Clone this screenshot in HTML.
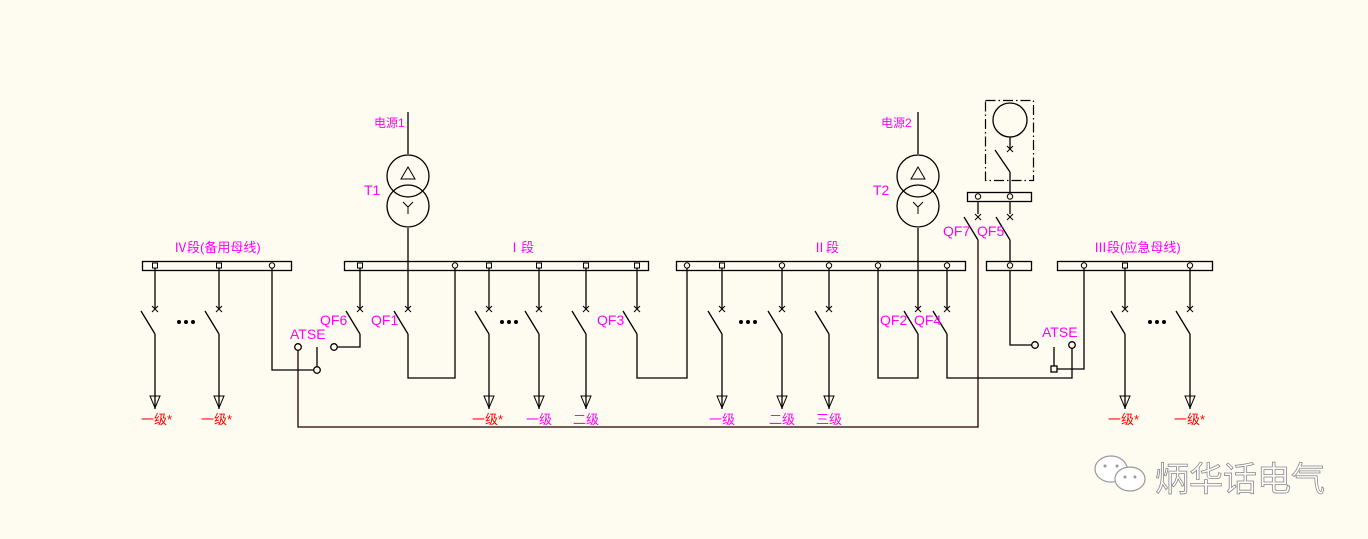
<!DOCTYPE html>
<html><head><meta charset="utf-8"><style>
html,body{margin:0;padding:0;background:#fefcf0;}
svg{display:block;}
text{font-family:"Liberation Sans","Noto Sans CJK SC",sans-serif;}
.m{fill:#ff00ff;font-size:12px;}
.q{fill:#ff00ff;font-size:14px;}
.r{fill:#ff0000;font-size:13px;}
.l{fill:#ff00ff;font-size:13px;}
</style></head><body>
<svg width="1368" height="539" viewBox="0 0 1368 539" xmlns="http://www.w3.org/2000/svg">
<rect width="1368" height="539" fill="#fefcf0"/>
<g stroke="#000" stroke-width="1.3" fill="none">
<rect x="142.5" y="261.5" width="149" height="9"/>
<rect x="344.5" y="261.5" width="304" height="9"/>
<rect x="676.5" y="261.5" width="289" height="9"/>
<rect x="986.5" y="261.5" width="45" height="9"/>
<rect x="1057.5" y="261.5" width="155" height="9"/>
<rect x="967.5" y="192.5" width="64" height="9"/>
<g stroke-width="1">
<rect x="152.5" y="263" width="5" height="5"/><rect x="216.5" y="263" width="5" height="5"/><circle cx="272" cy="265.5" r="2.7"/>
<rect x="357.5" y="263" width="5" height="5"/><circle cx="455" cy="265.5" r="2.7"/><rect x="486.5" y="263" width="5" height="5"/><rect x="536.5" y="263" width="5" height="5"/><rect x="583.5" y="263" width="5" height="5"/><rect x="634.5" y="263" width="5" height="5"/>
<circle cx="687" cy="265.5" r="2.7"/><rect x="719.5" y="263" width="5" height="5"/><circle cx="782" cy="265.5" r="2.7"/><circle cx="829" cy="265.5" r="2.7"/><circle cx="878" cy="265.5" r="2.7"/><circle cx="947" cy="265.5" r="2.7"/>
<circle cx="1010" cy="265.5" r="2.7"/>
<circle cx="1084" cy="265.5" r="2.7"/><rect x="1122.5" y="263" width="5" height="5"/><circle cx="1190" cy="265.5" r="2.7"/>
<circle cx="978" cy="196.5" r="2.7"/><circle cx="1010" cy="196.5" r="2.7"/>
</g>
<path d="M155 268V309M219 268V309M360 268V309M489 268V309M539 268V309M586 268V309M637 268V309M722 268V309M782 268V309M829 268V309M947 268V309M1125 268V309M1190 268V309"/>
<path stroke-width="1" d="M152 306l6 6M158 306l-6 6M216 306l6 6M222 306l-6 6M357 306l6 6M363 306l-6 6M405 306l6 6M411 306l-6 6M486 306l6 6M492 306l-6 6M536 306l6 6M542 306l-6 6M583 306l6 6M589 306l-6 6M634 306l6 6M640 306l-6 6M719 306l6 6M725 306l-6 6M779 306l6 6M785 306l-6 6M826 306l6 6M832 306l-6 6M915 306l6 6M921 306l-6 6M944 306l6 6M950 306l-6 6M1122 306l6 6M1128 306l-6 6M1187 306l6 6M1193 306l-6 6M975 214l6 6M981 214l-6 6M1007 214l6 6M1013 214l-6 6M1007 146l6 6M1013 146l-6 6"/>
<path d="M141 311L155 334M205 311L219 334M346 311L360 334M394 311L408 334M475 311L489 334M525 311L539 334M572 311L586 334M623 311L637 334M708 311L722 334M768 311L782 334M815 311L829 334M904 311L918 334M933 311L947 334M1111 311L1125 334M1176 311L1190 334M964 217L978 240M996 217L1010 240M995 150L1010 172"/>
<path d="M155 334V409M219 334V409M489 334V409M539 334V409M586 334V409M722 334V409M782 334V409M829 334V409M1125 334V409M1190 334V409"/>
<path stroke-width="1" d="M150 396H160L155 408ZM214 396H224L219 408ZM484 396H494L489 408ZM534 396H544L539 408ZM581 396H591L586 408ZM717 396H727L722 408ZM777 396H787L782 408ZM824 396H834L829 408ZM1120 396H1130L1125 408ZM1185 396H1195L1190 408Z"/>
<path d="M408 112V154M408 228V262M408 262V309M918 112V154M918 228V309"/>
<circle cx="408" cy="176" r="21"/><circle cx="408" cy="206" r="21"/>
<circle cx="918" cy="176" r="21"/><circle cx="918" cy="206" r="21"/>
<path stroke-width="1" d="M401 179H415L408 167ZM911 179H925L918 167Z"/>
<path stroke-width="1" d="M403 202L408 207L413 202M408 207V214M913 202L918 207L923 202M918 207V214"/>
<path d="M408 334V378H455V268M637 334V378H687V268M918 334V378H878V268"/>
<path d="M272 268V370H314M317 347V366M360 334V347H337"/>
<circle cx="298" cy="347" r="3.3"/><circle cx="317" cy="370" r="3.3"/><circle cx="334" cy="347" r="3.3"/>
<path stroke="#200000" d="M298 350V427H978V240"/>
<path d="M978 201V214M1010 201V214M1010 240V262M1010 270V345H1032M1054 347V366M1057 369H1084V268M1072 348V378H947V334"/>
<circle cx="1035" cy="345" r="3.3"/><circle cx="1072" cy="345" r="3.3"/>
<rect x="1051" y="366" width="6" height="6"/>
<rect x="985.5" y="100.5" width="48" height="80" stroke-dasharray="10,3,1.5,3" stroke-width="1.2"/>
<circle cx="1010" cy="120" r="17"/>
<path d="M1010 137V149M1010 172V192"/>
</g>
<g fill="#000"><circle cx="179" cy="322" r="2"/><circle cx="186" cy="322" r="2"/><circle cx="193" cy="322" r="2"/>
<circle cx="502" cy="322" r="2"/><circle cx="509" cy="322" r="2"/><circle cx="516" cy="322" r="2"/>
<circle cx="741" cy="322" r="2"/><circle cx="748" cy="322" r="2"/><circle cx="755" cy="322" r="2"/>
<circle cx="1150" cy="322" r="2"/><circle cx="1157" cy="322" r="2"/><circle cx="1164" cy="322" r="2"/></g>
<text class="m" x="374" y="127">电源1</text>
<text class="m" x="881" y="127">电源2</text>
<text class="q" x="364" y="195">T1</text>
<text class="q" x="873" y="195">T2</text>
<text class="l" x="174" y="252">Ⅳ段(备用母线)</text>
<text class="l" x="508" y="252">Ⅰ段</text>
<text class="l" x="813" y="252">Ⅱ段</text>
<text class="l" x="1094" y="252">Ⅲ段(应急母线)</text>
<text class="q" x="320" y="325">QF6</text>
<text class="q" x="371" y="325">QF1</text>
<text class="q" x="597" y="325">QF3</text>
<text class="q" x="880" y="325">QF2</text>
<text class="q" x="914" y="325">QF4</text>
<text class="q" x="943" y="236">QF7</text>
<text class="q" x="977" y="236">QF5</text>
<text class="q" x="290" y="339">ATSE</text>
<text class="q" x="1042" y="337">ATSE</text>
<text class="r" x="141" y="424">一级*</text>
<text class="r" x="201" y="424">一级*</text>
<text class="r" x="472" y="424">一级*</text>
<text class="l" x="526" y="424">一级</text>
<text class="l" x="573" y="424">二级</text>
<text class="l" x="709" y="424">一级</text>
<text class="l" x="769" y="424">二级</text>
<text class="l" x="816" y="424">三级</text>
<text class="r" x="1108" y="424">一级*</text>
<text class="r" x="1174" y="424">一级*</text>
<g stroke="#999" stroke-width="1.2" fill="#fff">
<ellipse cx="1111" cy="469" rx="16" ry="13"/>
<ellipse cx="1130" cy="479" rx="15" ry="12"/>
</g>
<g fill="#999"><circle cx="1105" cy="466" r="1.5"/><circle cx="1117" cy="466" r="1.5"/><circle cx="1125" cy="477" r="1.5"/><circle cx="1135" cy="477" r="1.5"/></g>
<text x="1155" y="491" font-size="34" fill="#fff" stroke="#888" stroke-width="0.8" style="font-family:'Noto Sans CJK SC',sans-serif">炳华话电气</text>
</svg>
</body></html>
